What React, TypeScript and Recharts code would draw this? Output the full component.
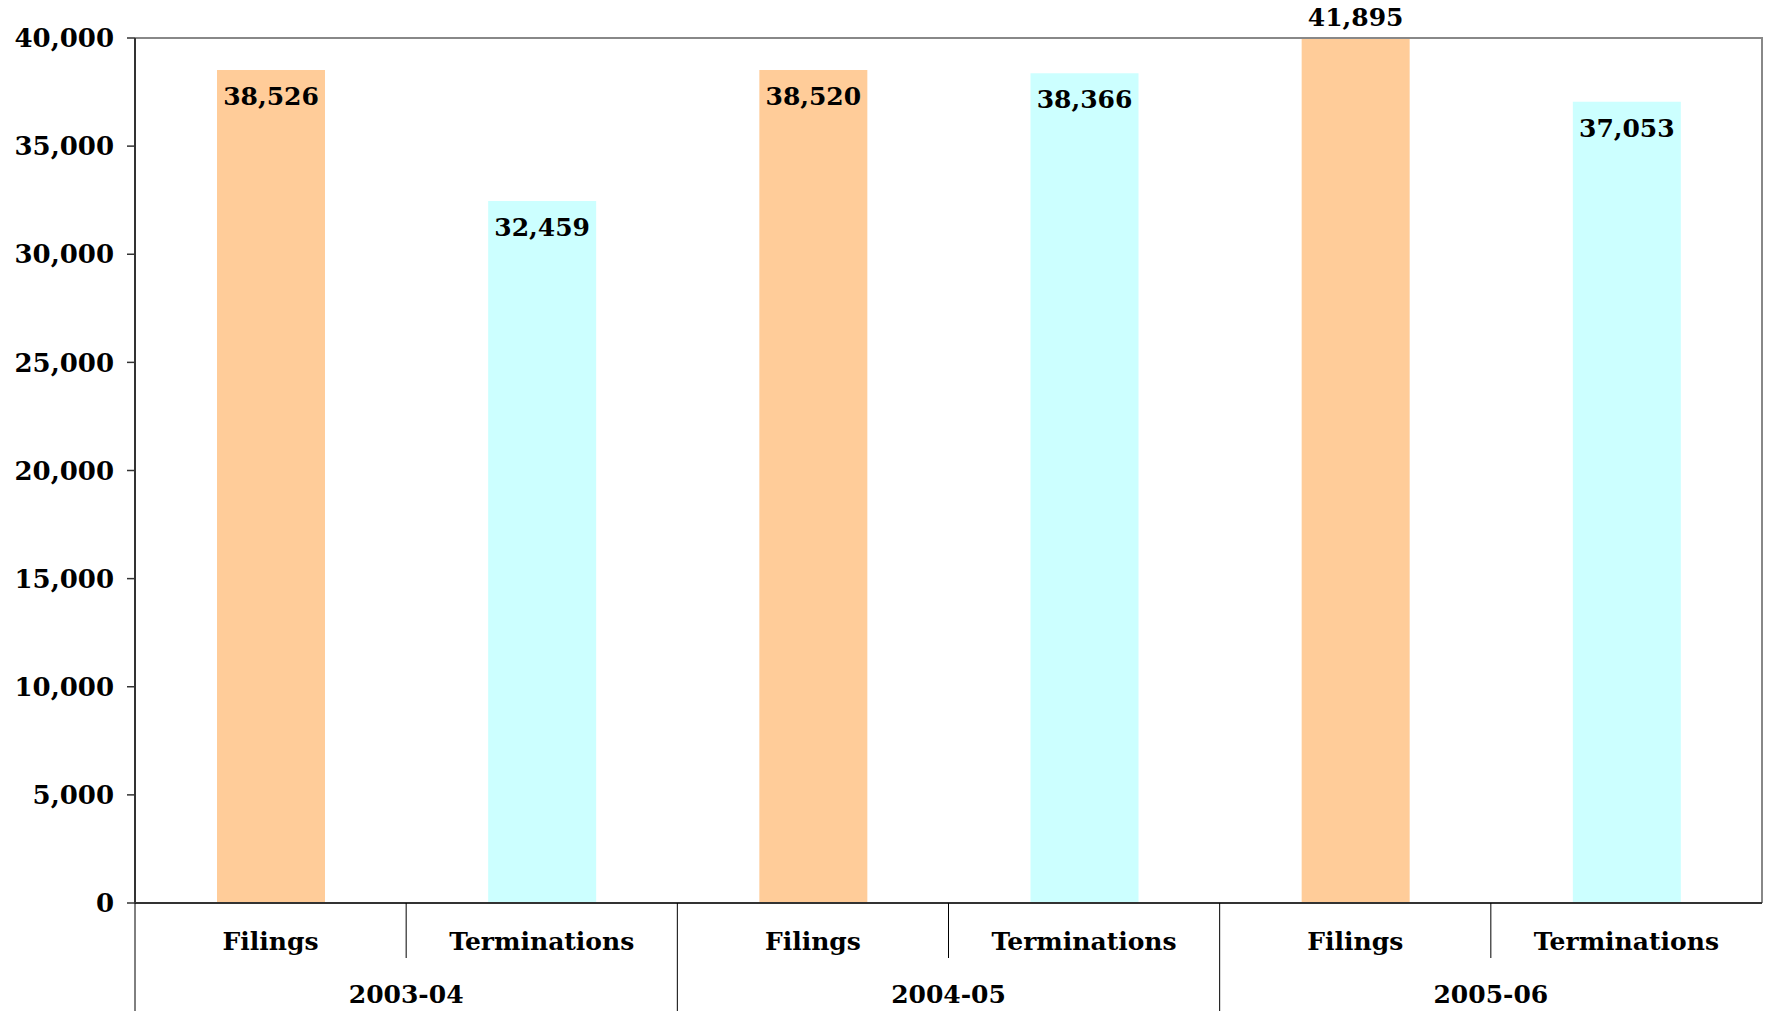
import { BarChart, Bar, XAxis, YAxis, Cell, LabelList, ReferenceLine } from 'recharts';

const years = ['2003-04', '2004-05', '2005-06'];
const kinds = ['Filings', 'Terminations'];
const filings = [38526, 38520, 41895];
const terminations = [32459, 38366, 37053];
const yTicks = [0, 5000, 10000, 15000, 20000, 25000, 30000, 35000, 40000];
const kindColors = ['#FFCC99', '#CCFFFF'];

const W = 1767;
const H = 1011;
const MARGIN = { top: 38, right: 5, left: 0, bottom: 0 };
const Y_WIDTH = 135;
const KIND_H = 55;
const YEAR_H = 53;
const Y_MAX = 40000;
const BASELINE = H - KIND_H - YEAR_H;
const FONT = '"DejaVu Serif", "Liberation Serif", serif';

const data = years.flatMap((year, i) => [
  { year, kind: kinds[0], value: filings[i] },
  { year, kind: kinds[1], value: terminations[i] },
]);

const plotW = W - MARGIN.left - MARGIN.right - Y_WIDTH;
const kindBand = plotW / data.length;
const yearBand = plotW / years.length;

const fmt = (v: number) => v.toLocaleString('en-US');

function KindTick(props: any) {
  const { x, y, payload, index } = props;
  return (
    <g>
      {index % 2 === 1 && (
        <line x1={x - kindBand / 2} x2={x - kindBand / 2} y1={y} y2={y + KIND_H} stroke="#000" strokeWidth={1} />
      )}
      <text x={x} y={y + 47} textAnchor="middle" fontFamily={FONT} fontWeight="bold" fontSize={25} fill="#000">
        {payload.value}
      </text>
    </g>
  );
}

function YearTick(props: any) {
  const { x, y, payload } = props;
  return (
    <g>
      <line x1={x - yearBand / 2} x2={x - yearBand / 2} y1={y - KIND_H} y2={H} stroke="#000" strokeWidth={1} />
      <text x={x} y={y + 45} textAnchor="middle" fontFamily={FONT} fontWeight="bold" fontSize={25} fill="#000">
        {payload.value}
      </text>
    </g>
  );
}

// top + right frame of the plot area
function FrameShape(props: any) {
  const { x1, y1, x2 } = props;
  return <path d={`M${x1},${y1}H${x2}V${BASELINE}`} fill="none" stroke="#888" strokeWidth={2} />;
}

function renderLabel(props: any) {
  const { x, y, width, value } = props;
  const ty = value > Y_MAX ? MARGIN.top - 12 : y + 35;
  return (
    <text x={x + width / 2} y={ty} textAnchor="middle" fontFamily={FONT} fontWeight="bold" fontSize={25} fill="#000">
      {fmt(value)}
    </text>
  );
}

export default function App() {
  return (
    <div style={{ position: 'absolute', left: 0, top: 0, width: W, height: H, background: '#fff' }}>
      <BarChart width={W} height={H} data={data} margin={MARGIN}>
        <XAxis
          xAxisId="kind"
          dataKey="kind"
          height={KIND_H}
          tickSize={0}
          tickMargin={0}
          tickLine={false}
          axisLine={{ stroke: '#333', strokeWidth: 2 }}
          interval={0}
          tick={<KindTick />}
        />
        <XAxis
          xAxisId="year"
          dataKey="year"
          allowDuplicatedCategory={false}
          height={YEAR_H}
          tickSize={0}
          tickMargin={0}
          tickLine={false}
          axisLine={false}
          interval={0}
          tick={<YearTick />}
        />
        <YAxis
          width={Y_WIDTH}
          domain={[0, Y_MAX]}
          ticks={yTicks}
          allowDataOverflow
          tickFormatter={fmt}
          tickSize={8}
          tickMargin={13}
          axisLine={{ stroke: '#333', strokeWidth: 2 }}
          tickLine={{ stroke: '#333', strokeWidth: 1.5 }}
          tick={{ fontFamily: FONT, fontWeight: 'bold', fontSize: 26, fill: '#000' }}
        />
        <ReferenceLine y={Y_MAX} xAxisId="kind" shape={<FrameShape />} />
        <Bar dataKey="value" xAxisId="kind" barSize={108} isAnimationActive={false}>
          {data.map((d, i) => (
            <Cell key={i} fill={kindColors[kinds.indexOf(d.kind)]} />
          ))}
          <LabelList dataKey="value" content={renderLabel} />
        </Bar>
      </BarChart>
    </div>
  );
}
